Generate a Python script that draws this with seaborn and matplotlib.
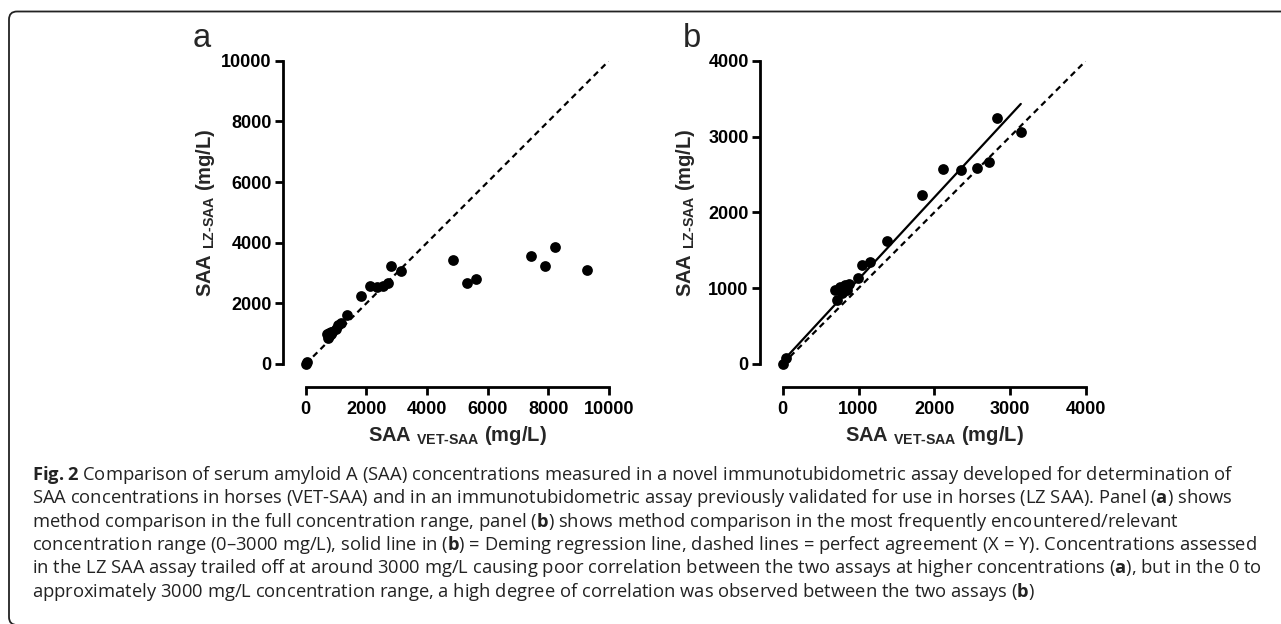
import numpy as np
import pandas as pd
import matplotlib
matplotlib.use("Agg")
import matplotlib.pyplot as plt
import seaborn as sns
from matplotlib.patches import FancyBboxPatch

# SAA values (mg/L)
vet_saa = [0, 50, 690, 721, 757, 779, 823, 845, 880, 990, 1051, 1148, 1372,
           1839, 2120, 2353, 2558, 2720, 2826, 3138,
           4857, 5308, 5626, 7418, 7879, 8231, 9264]
lz_saa = [5, 80, 982, 842, 1018, 930, 1040, 974, 1053, 1140, 1300, 1342, 1623,
          2228, 2566, 2552, 2583, 2660, 3240, 3060,
          3429, 2670, 2791, 3560, 3242, 3868, 3088]

# line of equality ranges and Deming fit (panel b)
identity_a = [0, 10000]
identity_b = [0, 4000]
deming_x = [0, 3140]
deming_slope = 1.0805
deming_intercept = 37

ticks_a = [0, 2000, 4000, 6000, 8000, 10000]
ticks_b = [0, 1000, 2000, 3000, 4000]

xlab = r"SAA $_{\text{VET-SAA}}$ (mg/L)"
ylab = r"SAA $_{\text{LZ-SAA}}$ (mg/L)"

caption = [
    r"$\mathbf{Fig.2}$ Comparison of serum amyloid A (SAA) concentrations measured in a novel immunotubidometric assay developed for determination of",
    r"SAA concentrations in horses (VET-SAA) and in an immunotubidometric assay previously validated for use in horses (LZ SAA). Panel ($\mathbf{a}$) shows",
    r"method comparison in the full concentration range, panel ($\mathbf{b}$) shows method comparison in the most frequently encountered/relevant",
    r"concentration range (0–3000 mg/L), solid line in ($\mathbf{b}$) = Deming regression line, dashed lines = perfect agreement (X = Y). Concentrations assessed",
    r"in the LZ SAA assay trailed off at around 3000 mg/L causing poor correlation between the two assays at higher concentrations ($\mathbf{a}$), but in the 0 to",
    r"approximately 3000 mg/L concentration range, a high degree of correlation was observed between the two assays ($\mathbf{b}$)",
]

df = pd.DataFrame({"vet": vet_saa, "lz": lz_saa})
df_low = df[df["vet"] < 4000]

sns.set_theme(style="ticks")
plt.rcParams.update({
    "font.family": ["Liberation Sans", "DejaVu Sans"],
    "font.weight": "bold",
    "mathtext.fontset": "custom",
    "mathtext.rm": "Liberation Sans:bold",
    "mathtext.bf": "Open Sans:bold",
    "mathtext.default": "regular",
    "axes.linewidth": 2.0,
    "xtick.major.width": 2.0,
    "ytick.major.width": 2.0,
    "xtick.major.size": 5.5,
    "ytick.major.size": 5.5,
    "xtick.labelsize": 13,
    "ytick.labelsize": 13,
    "xtick.color": "black",
    "ytick.color": "black",
    "axes.edgecolor": "black",
})

W, H = 1281, 624
fig = plt.figure(figsize=(W / 100, H / 100), dpi=100)
fig.patch.set_facecolor("white")


def px_axes(x0, x1, ytop, ybot):
    return fig.add_axes([x0 / W, 1 - ybot / H, (x1 - x0) / W, (ybot - ytop) / H])


ax_a = px_axes(305.7, 609, 60.7, 364)
ax_b = px_axes(782.7, 1086, 60.7, 364)

dash = (0, (2.7, 2.0))

# panel a
sns.lineplot(x=identity_a, y=identity_a, ax=ax_a, color="black", lw=1.6,
             linestyle=dash)
sns.scatterplot(data=df, x="vet", y="lz", ax=ax_a, color="black", s=60,
                linewidth=0, clip_on=False, zorder=3)
ax_a.set_xlim(0, 10000)
ax_a.set_ylim(0, 10000)
ax_a.set_xticks(ticks_a)
ax_a.set_yticks(ticks_a)

# panel b
dem_x = np.array(deming_x)
sns.lineplot(x=identity_b, y=identity_b, ax=ax_b, color="black", lw=1.6,
             linestyle=dash)
sns.lineplot(x=dem_x, y=deming_intercept + deming_slope * dem_x, ax=ax_b,
             color="black", lw=1.6)
sns.scatterplot(data=df_low, x="vet", y="lz", ax=ax_b, color="black", s=60,
                linewidth=0, clip_on=False, zorder=3)
ax_b.set_xlim(0, 4000)
ax_b.set_ylim(0, 4000)
ax_b.set_xticks(ticks_b)
ax_b.set_yticks(ticks_b)

# y label centres (axes fraction) for a and b
ylab_x = {ax_a: -0.332, ax_b: -0.322}

for ax in (ax_a, ax_b):
    sns.despine(ax=ax, offset=16.5)
    ax.set_facecolor("white")
    ax.grid(False)
    ax.tick_params(axis="x", pad=5)
    ax.tick_params(axis="y", pad=2.5)
    ax.set_xlabel(xlab, fontsize=14.5, fontweight="bold", labelpad=4)
    ax.set_ylabel(ylab, fontsize=14.5, fontweight="bold")
    ax.yaxis.set_label_coords(ylab_x[ax], 0.5)
    ax.yaxis.label.set_verticalalignment("center")

fig.text(193 / W, 1 - 46.7 / H, "a", fontsize=23.5, fontweight="normal",
         va="baseline", ha="left")
fig.text(683 / W, 1 - 46.7 / H, "b", fontsize=23.5, fontweight="normal",
         va="baseline", ha="left")

for i, line in enumerate(caption):
    fig.text(32 / W, 1 - (475 + 23.33 * i) / H, line, fontsize=13.25,
             family="Open Sans", fontweight="normal", color="#222222",
             va="center", ha="left")

# rounded frame around the figure
frame = FancyBboxPatch((9, -1), 1300, 613.5,
                       boxstyle="round,pad=0,rounding_size=8",
                       transform=None, fill=False, lw=1.3, ec="#222222")
fig.add_artist(frame)

fig.savefig("out.png", dpi=100)
